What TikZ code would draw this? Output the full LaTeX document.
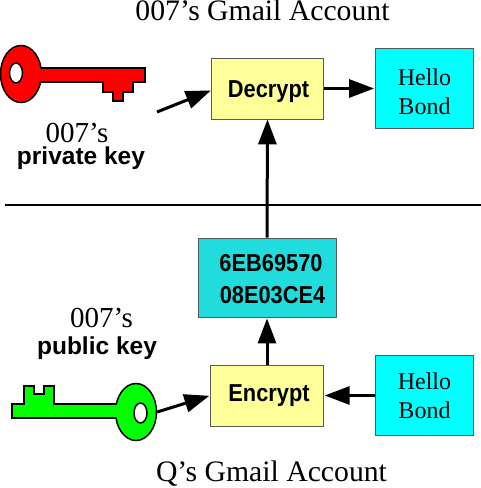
\documentclass[tikz,border=0pt]{standalone}
\usepackage{fontspec}
\setmainfont{Liberation Serif}
\newfontfamily\labelfont{Liberation Sans}
\newfontfamily\boxfont[FakeStretch=0.89]{Liberation Sans}
\usetikzlibrary{arrows.meta,shapes.geometric}
\definecolor{cKeyRed}{RGB}{255,0,0}
\definecolor{cKeyGreen}{RGB}{0,255,0}
\definecolor{cYellow}{RGB}{255,255,153}
\definecolor{cHello}{RGB}{0,255,255}
\definecolor{cCipher}{RGB}{32,220,220}
\tikzset{
  boxnode/.style={draw=black!65,line width=0.8pt,inner sep=0pt,align=center},
  opbox/.style={boxnode,fill=cYellow,minimum width=112.5pt,minimum height=61pt,
    font=\boxfont\bfseries\fontsize{24.5}{30}\selectfont},
  msgbox/.style={boxnode,fill=cHello,minimum width=98pt,minimum height=80pt,
    font=\fontsize{24}{29}\selectfont},
  serif/.style={anchor=base,inner sep=0pt,font=\fontsize{29}{34}\selectfont},
  acct/.style={anchor=base,inner sep=0pt,font=\fontsize{29.7}{34}\selectfont},
  keyname/.style={anchor=base,inner sep=0pt,font=\labelfont\bfseries\fontsize{24.5}{28}\selectfont},
  keyline/.style={draw=black,line width=1.5pt,line join=miter},
  bowl/.style={keyline,ellipse,inner sep=0pt,minimum width=41pt,minimum height=57pt},
  hole/.style={keyline,ellipse,fill=white,inner sep=0pt,minimum width=13pt,minimum height=20pt},
  flow/.style={-{Triangle[length=25pt,width=18pt]},line width=3pt},
}
\begin{document}
\begin{tikzpicture}[x=1pt,y=1pt]
    \useasboundingbox (0,0) rectangle (481,488);
    % titles
    \node[acct] (topTitle) at (262.5,467) {007’s Gmail Account};
    \node[acct] (botTitle) at (271.5,6) {Q’s Gmail Account};
    % upper half
    \node[opbox] (dec) at (267.5,399.5) {\rule{0pt}{24pt}\hspace*{2pt}Decrypt};
    \node[msgbox] (helloTop) at (424.5,399.5) {\rule{0pt}{23pt}Hello\\Bond};
    % lower half
    \node[boxnode,fill=cCipher,minimum width=138pt,minimum height=79pt,
      font=\boxfont\bfseries\fontsize{24.5}{32}\selectfont] (cipher) at (267,210.5)
      {\rule{0pt}{21pt}\hspace*{8pt}6EB69570\\\hspace*{11pt}08E03CE4};
    \node[opbox] (enc) at (267,92.5) {\hspace*{4pt}Encrypt};
    \node[msgbox] (helloBot) at (424.5,92.5) {Hello\\Bond};
    % divider
    \coordinate (divL) at (5,283);
    \coordinate (divR) at (481,283);
    \draw[line width=1.5pt] (divL) -- (divR);
    % red key
    \fill[keyline,fill=cKeyRed] (40,420) -- (145,420) -- (145,406) -- (133,406) -- (133,396)
      -- (123,396) -- (123,387) -- (113,387) -- (113,396) -- (103,396) -- (103,406) -- (40,406) -- cycle;
    \node[bowl,fill=cKeyRed] (redBowl) at (21,414) {};
    \fill[cKeyRed] (36,407) rectangle (43,419);
    \node[hole] (redHole) at (16,415) {};
    % green key
    \fill[keyline,fill=cKeyGreen] (118,84) -- (54,84) -- (54,102) -- (44,102) -- (44,94) -- (34,94)
      -- (34,102) -- (24,102) -- (24,84) -- (12,84) -- (12,70) -- (118,70) -- cycle;
    \node[bowl,fill=cKeyGreen] (greenBowl) at (136,76) {};
    \fill[cKeyGreen] (114,71) rectangle (121,83);
    \node[hole] (greenHole) at (140.5,75) {};
    % key labels
    \node[serif] (privOwner) at (77,345) {007’s};
    \node[keyname] (privName) at (81,323) {private key};
    \node[serif] (pubOwner) at (101.5,160) {007’s};
    \node[keyname] (pubName) at (97,133) {public key};
    % arrows
    \coordinate (privEnd) at (157,376);
    \draw[flow] (privEnd) -- ([yshift=-2pt]dec.west);
    \draw[flow,shorten >=1pt] (dec.east) -- (helloTop.west);
    \draw[flow] (cipher.north) -- (dec.south);
    \draw[flow,shorten >=1pt] (enc.north) -- (cipher.south);
    \draw[flow,shorten >=1pt] (helloBot.west) -- (enc.east);
    \draw[flow,shorten >=1pt] (greenBowl.east) -- (enc.west);
\end{tikzpicture}
\end{document}
